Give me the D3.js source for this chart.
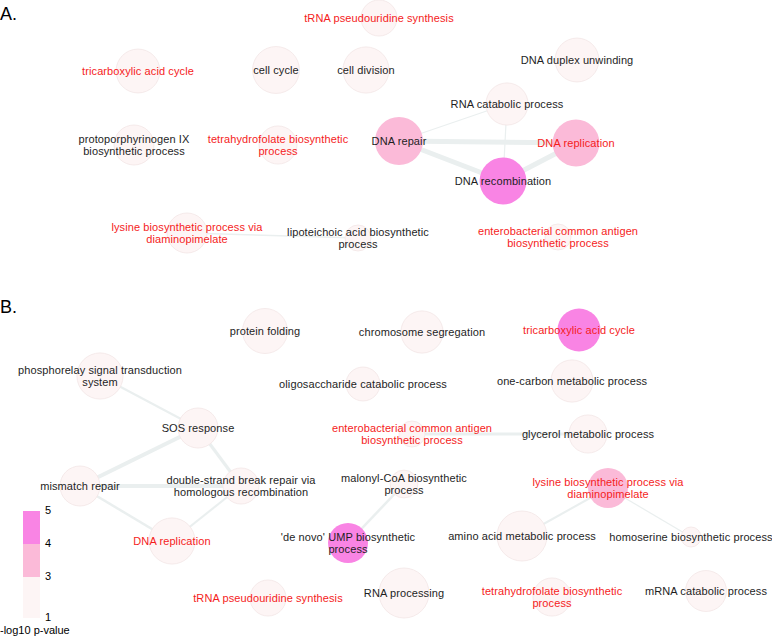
<!DOCTYPE html>
<html>
<head>
<meta charset="utf-8">
<script src="https://cdn.jsdelivr.net/npm/d3@7"></script>
<style>
  body { margin: 0; background: #fff; }
  svg { display: block; font-family: "Liberation Sans", Arial, Helvetica, sans-serif; }
</style>
</head>
<body>
<svg id="chart" width="772" height="637"></svg>
<script>
// Panel A: enriched GO terms
const termsA = [
  "tRNA pseudouridine synthesis", "tricarboxylic acid cycle", "cell cycle", "cell division",
  "DNA duplex unwinding", "RNA catabolic process", "protoporphyrinogen IX\nbiosynthetic process",
  "tetrahydrofolate biosynthetic\nprocess", "DNA repair", "DNA replication", "DNA recombination",
  "lysine biosynthetic process via\ndiaminopimelate", "lipoteichoic acid biosynthetic\nprocess",
  "enterobacterial common antigen\nbiosynthetic process"
];
const pvalA = [1.6, 1.8, 2.2, 2.1, 1.9, 1.7, 1.5, 1.6, 3.6, 3.5, 4.6, 1.6, 1.3, 1.4];
const countA = [52, 77, 88, 85, 77, 71, 64, 58, 92, 88, 88, 64, 27, 27];
const sharedA = [1, 1, 0, 0, 0, 0, 0, 1, 0, 1, 0, 1, 0, 1];
// layout units from the network view
const layoutA = [
  [379, 18], [138, 71], [276, 70], [366, 70], [577, 60], [507, 104], [134, 145],
  [278, 145], [399, 141], [576, 143], [503, 181], [187, 233], [358, 238], [558, 237]
];
const edgesA = [[8, 9, 1.0], [8, 10, 1.0], [9, 10, 1.0], [8, 5, 0.1], [5, 10, 0.1], [11, 12, 0.2]];

// Panel B
const termsB = [
  "protein folding", "chromosome segregation", "tricarboxylic acid cycle",
  "phosphorelay signal transduction\nsystem", "oligosaccharide catabolic process",
  "one-carbon metabolic process", "SOS response",
  "enterobacterial common antigen\nbiosynthetic process", "glycerol metabolic process",
  "mismatch repair", "double-strand break repair via\nhomologous recombination",
  "malonyl-CoA biosynthetic\nprocess", "lysine biosynthetic process via\ndiaminopimelate",
  "DNA replication", "'de novo' UMP biosynthetic\nprocess", "amino acid metabolic process",
  "homoserine biosynthetic process", "RNA processing", "tRNA pseudouridine synthesis",
  "tetrahydrofolate biosynthetic\nprocess", "mRNA catabolic process"
];
const pvalB = [1.8, 1.7, 4.5, 2.0, 1.5, 1.7, 1.6, 1.3, 1.5, 1.6, 1.5, 1.4, 3.4, 2.1, 4.4,
  2.3, 1.2, 2.4, 1.5, 1.6, 1.7];
const countB = [81, 71, 74, 85, 46, 71, 64, 27, 58, 64, 52, 31, 64, 85, 64, 100, 16, 100, 52, 58, 67];
const sharedB = [0, 0, 1, 0, 0, 0, 0, 1, 0, 0, 0, 0, 1, 1, 0, 0, 0, 0, 1, 1, 0];
const layoutB = [
  [265, 331], [422, 332], [579, 330], [100, 376], [363, 384], [572, 381], [198, 428],
  [412, 434], [588, 434], [80, 486], [241, 486], [404, 484], [608, 488], [172, 541],
  [348, 543], [522, 536], [691, 537], [404, 593], [268, 598], [552, 597], [706, 591]
];
const edgesB = [[3, 6, 0.3], [6, 9, 0.8], [6, 10, 0.55], [9, 10, 0.8], [9, 13, 0.4],
  [10, 13, 0.3], [7, 8, 0.55], [11, 14, 0.4], [12, 15, 0.3], [12, 16, 0.1]];

// Legend
const legendStops = [1, 3, 4, 5];

const svg = d3.select("#chart");
const W = +svg.attr("width");

const x = d3.scaleLinear().domain([0, 772]).range([0, W]);
const y = d3.scaleLinear().domain([0, 637]).range([0, 637]);
const radius = d3.scaleSqrt().domain([0, 100]).range([0, 25]);
const width = d3.scaleLinear().domain([0, 1]).range([0.8, 5]);
const color = d3.scaleThreshold().domain([3, 4]).range(["#fdf5f5", "#fbbad8", "#f984e4"]);

function drawNetwork(terms, pvals, counts, shared, layout, edges) {
  const nodes = terms.map((t, i) => ({
    label: t, p: pvals[i], n: counts[i], red: shared[i], x: layout[i][0], y: layout[i][1]
  }));
  const g = svg.append("g");

  g.selectAll("line")
    .data(edges)
    .join("line")
    .attr("x1", (d) => x(nodes[d[0]].x))
    .attr("y1", (d) => y(nodes[d[0]].y))
    .attr("x2", (d) => x(nodes[d[1]].x))
    .attr("y2", (d) => y(nodes[d[1]].y))
    .attr("stroke", "#eaefef")
    .attr("stroke-width", (d) => width(d[2]));

  g.selectAll("circle")
    .data(nodes)
    .join("circle")
    .attr("cx", (d) => x(d.x))
    .attr("cy", (d) => y(d.y))
    .attr("r", (d) => radius(d.n))
    .attr("fill", (d) => color(d.p))
    .attr("stroke", (d) => (d.p < 3 ? "#f2e6e6" : "none"))
    .attr("stroke-width", 0.8);

  // labels, split on line breaks
  const labels = g.selectAll("text")
    .data(nodes)
    .join("text")
    .attr("text-anchor", "middle")
    .attr("font-size", 11)
    .attr("letter-spacing", 0.1)
    .attr("fill", (d) => (d.red ? "#f51c1c" : "#1e1e1e"));

  labels.each(function (d) {
    const lines = d.label.split("\n");
    const t = d3.select(this);
    lines.forEach((ln, k) => {
      t.append("tspan")
        .attr("x", x(d.x))
        .attr("y", y(d.y) + (k - (lines.length - 1) / 2) * 12)
        .attr("dy", "0.35em")
        .text(ln);
    });
  });
}

drawNetwork(termsA, pvalA, countA, sharedA, layoutA, edgesA);
drawNetwork(termsB, pvalB, countB, sharedB, layoutB, edgesB);

// Panel letters
svg.append("text").attr("x", 0).attr("y", 20).attr("font-size", 18).text("A.");
svg.append("text").attr("x", 0).attr("y", 313).attr("font-size", 18).text("B.");

// Legend color bar
const ly = d3.scaleLinear().domain(legendStops).range([618, 577, 544, 511]);
const legend = svg.append("g");
legend.selectAll("rect")
  .data(d3.pairs(legendStops))
  .join("rect")
  .attr("x", 23)
  .attr("width", 17)
  .attr("y", (d) => ly(d[1]))
  .attr("height", (d) => ly(d[0]) - ly(d[1]))
  .attr("fill", (d) => color(d[0]));

legend.selectAll("text.tick")
  .data(legendStops)
  .join("text")
  .attr("class", "tick")
  .attr("x", 45)
  .attr("y", (d) => ly(d) - 1)
  .attr("dy", "0.35em")
  .attr("font-size", 11)
  .text((d) => d);

legend.append("text")
  .attr("x", 0)
  .attr("y", 634)
  .attr("font-size", 11)
  .text("-log10 p-value");
</script>
</body>
</html>
